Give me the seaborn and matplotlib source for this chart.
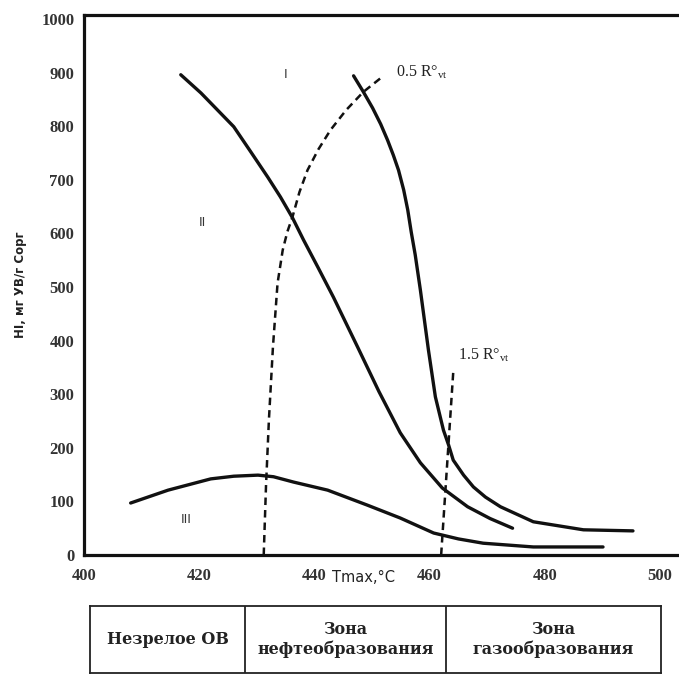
import matplotlib
matplotlib.use("Agg")
import matplotlib.pyplot as plt
import seaborn as sns
import pandas as pd

# ---- data ----
curve1_x = [446.8, 448.5, 450.1, 451.5, 452.7, 453.7, 454.6, 455.5, 456.2, 456.8, 457.5, 458.4, 459.1,
            459.8, 461.0, 462.4, 463.3, 464.1, 465.9, 467.6, 469.7, 472.3, 478.0, 486.7, 495.3]
curve1_y = [894, 864, 834, 804, 774, 746, 718, 681, 644, 603, 560, 494, 438,
            382, 295, 233, 205, 177, 149, 127, 108, 90, 62, 47, 45]

curve2_x = [416.8, 420.3, 426.0, 428.9, 431.9, 434.1, 436.2, 438.1, 440.6, 443.3, 447.5, 451.2,
            454.9, 458.4, 462.2, 466.6, 470.5, 474.4]
curve2_y = [896, 862, 799, 753, 705, 668, 629, 588, 537, 481, 388, 305,
            228, 172, 125, 90, 68, 50]

curve3_x = [408.1, 414.6, 422.0, 426.0, 430.2, 432.9, 436.4, 442.3, 449.2, 454.9, 460.7, 465.0,
            469.3, 478.0, 490.1]
curve3_y = [97, 121, 142, 147, 149, 146, 136, 121, 93, 69, 41, 30,
            22, 15, 15]

ro05_x = [431.2, 431.6, 432.1, 432.8, 433.6, 434.5, 435.3, 436.2, 437.4, 438.8, 440.7, 442.8, 445.5, 448.5, 452.0]
ro05_y = [0, 130, 252, 388, 507, 569, 603, 631, 677, 718, 757, 793, 830, 864, 894]

ro15_x = [462.0, 464.1]
ro15_y = [0, 341]

x_ticks = [400, 420, 440, 460, 480, 500]
y_ticks = [0, 100, 200, 300, 400, 500, 600, 700, 800, 900, 1000]
zones = ["Незрелое ОВ", "Зона\nнефтеобразования", "Зона\nгазообразования"]

sns.set_style("white")
plt.rcParams["font.family"] = ["DejaVu Sans"]
plt.rcParams["mathtext.fontset"] = "custom"
plt.rcParams["mathtext.rm"] = "Liberation Serif"

W, H = 679, 678
fig = plt.figure(figsize=(W / 100, H / 100), dpi=100)
fig.patch.set_facecolor("white")

left_px, right_px, zero_px, top_px = 84, 679, 555, 15
ax = fig.add_axes([left_px / W, (H - zero_px) / H, (right_px - left_px) / W, (zero_px - top_px) / H])

def px2x(px):
    return 400 + (px - 83) / 5.77

ax.set_xlim(px2x(left_px), px2x(right_px))
ax.set_ylim(0, (zero_px - top_px) / 0.536)

solid = dict(color="#111111", linewidth=2.4, sort=False, estimator=None, ax=ax)
for xs, ys in [(curve1_x, curve1_y), (curve2_x, curve2_y), (curve3_x, curve3_y)]:
    l = sns.lineplot(data=pd.DataFrame({"x": xs, "y": ys}), x="x", y="y", **solid)
    l.lines[-1].set_solid_joinstyle("round")
    l.lines[-1].set_solid_capstyle("round")

dashed = dict(color="#111111", linewidth=1.8, sort=False, estimator=None, ax=ax)
for xs, ys in [(ro05_x, ro05_y), (ro15_x, ro15_y)]:
    l = sns.lineplot(data=pd.DataFrame({"x": xs, "y": ys}), x="x", y="y", **dashed)
    l.lines[-1].set_dashes([3, 2])

for s in ["left", "bottom", "top"]:
    ax.spines[s].set_linewidth(2.3)
    ax.spines[s].set_color("#111111")
ax.spines["right"].set_visible(False)

ax.set_xticks(x_ticks)
ax.set_yticks(y_ticks)
ax.tick_params(length=0, pad=8)
for lab in ax.get_xticklabels() + ax.get_yticklabels():
    lab.set_fontfamily("Liberation Serif")
    lab.set_fontweight("bold")
    lab.set_fontsize(12)
    lab.set_color("#333333")
ax.tick_params(axis="x", pad=9)
ax.tick_params(axis="y", pad=7)
ax.set_xlabel("")
ax.set_ylabel("HI, мг УВ/г Сорг", fontsize=8.5, fontweight="bold", labelpad=10, color="#222222")
ax.text(448.6, -28, "Tmax,°C", ha="center", va="top", fontsize=10.5, color="#222222", clip_on=False)

# curve labels
ax.text(435.0, 896, "I", ha="center", va="center", fontsize=9, color="#333333")
ax.text(420.6, 621, "II", ha="center", va="center", fontsize=9, color="#333333")
ax.text(417.7, 67, "III", ha="center", va="center", fontsize=9, color="#333333")
ax.text(454.2, 901, "0.5 R°$_{\\mathregular{vt}}$", ha="left", va="center", fontsize=11.5,
        fontfamily="Liberation Serif", color="#222222")
ax.text(465.0, 373, "1.5 R°$_{\\mathregular{vt}}$", ha="left", va="center", fontsize=11.5,
        fontfamily="Liberation Serif", color="#222222")

# zones table
tl, tr, tt, tb = 90, 661, 606, 673
tax = fig.add_axes([tl / W, (H - tb) / H, (tr - tl) / W, (tb - tt) / H])
tax.set_xlim(0, 1)
tax.set_ylim(0, 1)
tax.set_xticks([])
tax.set_yticks([])
for s in tax.spines.values():
    s.set_linewidth(1.3)
    s.set_color("#222222")
bounds = [0, (245 - tl) / (tr - tl), (446 - tl) / (tr - tl), 1]
for b in bounds[1:-1]:
    tax.axvline(b, color="#222222", linewidth=1.3)
for i, z in enumerate(zones):
    tax.text((bounds[i] + bounds[i + 1]) / 2, 0.5, z, ha="center", va="center",
             fontsize=11.5, fontweight="bold", fontfamily="DejaVu Serif", linespacing=1.25,
             color="#222222")

fig.savefig("out.png", dpi=100, facecolor="white")
